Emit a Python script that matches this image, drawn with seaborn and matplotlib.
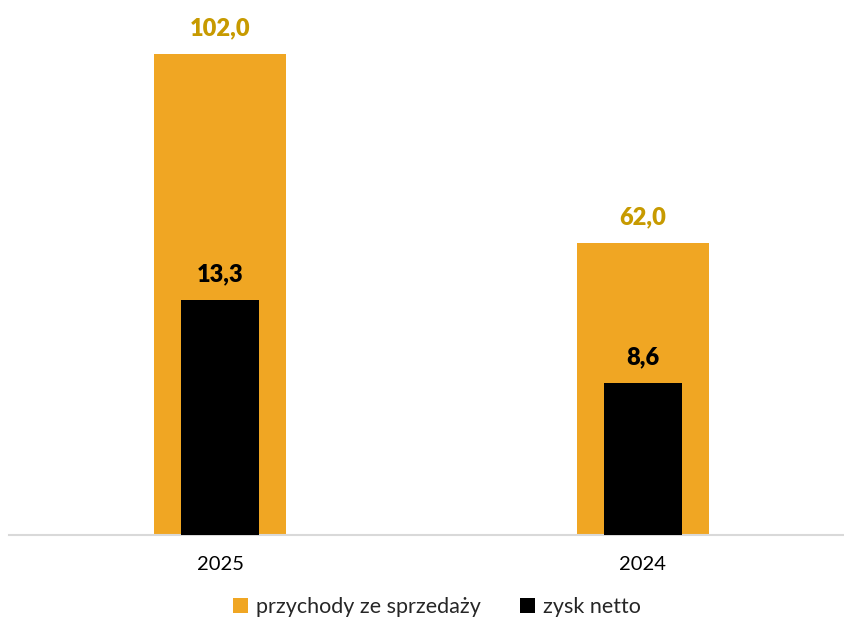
import matplotlib
matplotlib.use("Agg")
import matplotlib.pyplot as plt
from matplotlib.patches import Patch
import seaborn as sns
import pandas as pd

# Values
years = ["2025", "2024"]
revenue = [102.0, 62.0]      # przychody ze sprzedaży
net_profit = [13.3, 8.6]     # zysk netto

ORANGE = "#F0A623"
LABEL_GOLD = "#C79A00"
BLACK = "#000000"

sns.set_theme(style="white")
plt.rcParams["font.family"] = ["Lato", "DejaVu Sans"]

df = pd.DataFrame({"rok": years, "przychody": revenue, "zysk": net_profit})

fig = plt.figure(figsize=(8.44, 6.19), dpi=100)
ax = fig.add_axes([9 / 844, 84 / 619, 845 / 844, 525 / 619])
ax2 = ax.twinx()

sns.barplot(data=df, x="rok", y="przychody", order=years, color=ORANGE,
            width=0.312, saturation=1, linewidth=0, ax=ax)
sns.barplot(data=df, x="rok", y="zysk", order=years, color=BLACK,
            width=0.184, saturation=1, linewidth=0, ax=ax2)

ax.set_ylim(0, 111.33)
ax2.set_ylim(0, 29.71)
ax.set_xlim(-0.5, 1.5)

for a in (ax, ax2):
    a.set_ylabel("")
    a.set_xlabel("")
    a.set_yticks([])
    for s in ("top", "left", "right"):
        a.spines[s].set_visible(False)
    a.grid(False)
ax2.spines["bottom"].set_visible(False)
ax.spines["bottom"].set_color("#D9D9D9")
ax.spines["bottom"].set_linewidth(1.5)

ax.tick_params(axis="x", length=0, pad=15, labelsize=14.5, labelcolor="#000000")

def fmt(v):
    return f"{v:.1f}".replace(".", ",")

for c in ax.containers:
    ax.bar_label(c, labels=[fmt(v) for v in revenue], padding=10.5,
                 fontsize=17, fontweight="heavy", color=LABEL_GOLD)
for c in ax2.containers:
    ax2.bar_label(c, labels=[fmt(v) for v in net_profit], padding=10.5,
                  fontsize=17, fontweight="heavy", color=BLACK)

handles = [Patch(facecolor=ORANGE, edgecolor="none", label="przychody ze sprzedaży"),
           Patch(facecolor=BLACK, edgecolor="none", label="zysk netto")]
fig.legend(handles=handles, loc="center", bbox_to_anchor=(437 / 844, 1 - 607 / 619),
           ncol=2, frameon=False, fontsize=15.5, handlelength=0.68, handleheight=0.68,
           handletextpad=0.4, columnspacing=1.8)

fig.savefig("out.png", dpi=100)
